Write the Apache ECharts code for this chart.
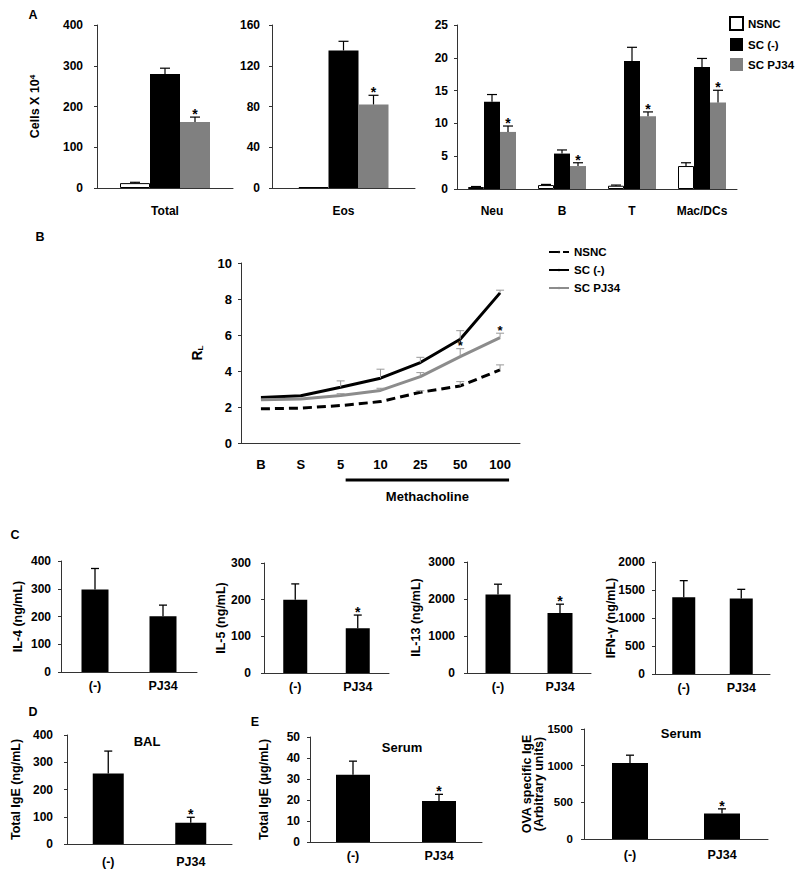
<!DOCTYPE html>
<html><head><meta charset="utf-8">
<script src="https://cdn.jsdelivr.net/npm/echarts@6/dist/echarts.min.js"></script>
<style>html,body{margin:0;padding:0;background:#fff}#c{width:800px;height:877px}</style>
</head><body><div id="c"></div>
<script>
const FONT = '"Liberation Sans", Arial, Helvetica, sans-serif';
const GRAY_BAR = '#808080';
const GRAY_LINE = '#8c8c8c';
const AXIS_COLOR = '#333';

// ---------- Panel A : cells ----------
const totalCats = ['Total'];
const totalNSNC = [12];   const totalNSNCSem = [2];
const totalSC = [280];    const totalSCSem = [14];
const totalPJ = [162];    const totalPJSem = [12];
const totalPJStar = [1];

const eosCats = ['Eos'];
const eosNSNC = [0.8];    const eosNSNCSem = [0];
const eosSC = [135];      const eosSCSem = [9];
const eosPJ = [82];       const eosPJSem = [9];
const eosPJStar = [1];

const cellCats = ['Neu', 'B', 'T', 'Mac/DCs'];
const cellNSNC = [0.3, 0.6, 0.5, 3.5];     const cellNSNCSem = [0.08, 0.1, 0.1, 0.5];
const cellSC = [13.3, 5.4, 19.5, 18.6];    const cellSCSem = [1.1, 0.55, 2.1, 1.3];
const cellPJ = [8.7, 3.5, 11.1, 13.2];     const cellPJSem = [0.9, 0.5, 0.65, 1.85];
const cellPJStar = [1, 1, 1, 1];
const legendNames = ['NSNC', 'SC (-)', 'SC PJ34'];

// ---------- Panel B : R_L ----------
const rlCats = ['B', 'S', '5', '10', '25', '50', '100'];
const rlNSNC = [1.9, 1.94, 2.08, 2.3, 2.82, 3.17, 4.06];
const rlNSNCSem = [0, 0, 0, 0, 0.08, 0.24, 0.28];
const rlSC = [2.53, 2.62, 3.1, 3.6, 4.47, 5.76, 8.34];
const rlSCSem = [0, 0, 0.35, 0.5, 0.29, 0.48, 0.15];
const rlPJ = [2.4, 2.44, 2.64, 2.92, 3.69, 4.8, 5.85];
const rlPJSem = [0, 0, 0.1, 0.12, 0.22, 0.44, 0.25];
const rlPJStar = [0, 0, 0, 0, 0, 1, 1];
const rlNoStar = [0, 0, 0, 0, 0, 0, 0];

// ---------- Panel C, D, E ----------
const treatCats = ['(-)', 'PJ34'];
const il4Mean = [297, 201];     const il4Sem = [76, 40];     const il4Star = [0, 0];
const il5Mean = [200, 122];     const il5Sem = [43, 36];     const il5Star = [0, 1];
const il13Mean = [2125, 1625];  const il13Sem = [275, 235];  const il13Star = [0, 1];
const ifnMean = [1370, 1350];   const ifnSem = [297, 162];   const ifnStar = [0, 0];
const balIgeMean = [259, 78];   const balIgeSem = [82, 20];  const balIgeStar = [0, 1];
const serIgeMean = [32, 19.5];  const serIgeSem = [6.5, 3.2]; const serIgeStar = [0, 1];
const ovaIgeMean = [1038, 347]; const ovaIgeSem = [105, 64]; const ovaIgeStar = [0, 1];

// ---------- builders ----------
const grids = [], xAxes = [], yAxes = [], series = [];
function addGrid(left, top, width, height) {
  grids.push({left, top, width, height, containLabel: false, outerBoundsMode: 'none'});
  return grids.length - 1;
}
function xAx(gi, cats, fontSize, margin) {
  xAxes.push({
    type: 'category', gridIndex: gi, data: cats,
    axisLine: {show: true, lineStyle: {color: AXIS_COLOR, width: 1}},
    axisTick: {show: false},
    axisLabel: {color: '#000', fontWeight: 'bold', fontSize, fontFamily: FONT, margin, interval: 0},
    splitLine: {show: false}
  });
}
function yAx(gi, max, interval, fontSize, margin, name, nameGap, nameStyle) {
  yAxes.push({
    type: 'value', gridIndex: gi, min: 0, max, interval,
    axisLine: {show: true, lineStyle: {color: AXIS_COLOR, width: 1}},
    axisTick: {show: true, length: 3, lineStyle: {color: AXIS_COLOR}},
    splitLine: {show: false},
    axisLabel: {color: '#000', fontWeight: 'bold', fontSize, fontFamily: FONT, margin, formatter: v => String(v)},
    name: name || '', nameLocation: 'middle', nameRotate: 90, nameGap: nameGap || 0,
    nameMoveOverlap: false,
    nameTextStyle: Object.assign({color: '#000', fontWeight: 'bold', fontSize: 12.5, fontFamily: FONT}, nameStyle || {})
  });
}
function bar(gi, name, data, width, itemStyle) {
  series.push({type: 'bar', name, xAxisIndex: gi, yAxisIndex: gi, data, barWidth: width, barGap: '0%',
    itemStyle, silent: true, z: 2});
}
function err(gi, means, sems, stars, offset, capHalf, color, lw, starSize) {
  series.push({
    type: 'custom', xAxisIndex: gi, yAxisIndex: gi, z: 10, silent: true,
    data: means.map((m, i) => [i, m, m + sems[i], stars[i]]),
    renderItem(params, api) {
      const i = api.value(0);
      const b = api.coord([i, api.value(1)]);
      const t = api.coord([i, api.value(2)]);
      const cx = b[0] + offset;
      const ch = [];
      if (t[1] < b[1] - 0.5) {
        ch.push({type: 'line', shape: {x1: cx, y1: b[1], x2: cx, y2: t[1]}, style: {stroke: color, lineWidth: lw}});
        ch.push({type: 'line', shape: {x1: cx - capHalf, y1: t[1], x2: cx + capHalf, y2: t[1]}, style: {stroke: color, lineWidth: lw}});
      }
      if (api.value(3)) {
        ch.push({type: 'text', x: cx, y: t[1] - 3,
          style: {text: '*', font: 'bold ' + starSize + 'px ' + FONT, fill: '#000', align: 'center', verticalAlign: 'middle'}});
      }
      return {type: 'group', children: ch};
    }
  });
}
const NSNC_STYLE = {color: '#fff', borderColor: '#000', borderWidth: 1};
const SC_STYLE = {color: '#000'};
const PJ_STYLE = {color: GRAY_BAR};
const BLACK = {color: '#000'};

// Panel A
function panelA(gi, cats, n, ns, s, ss, p, ps, pst, bw) {
  bar(gi, legendNames[0], n, bw, NSNC_STYLE);
  bar(gi, legendNames[1], s, bw, SC_STYLE);
  bar(gi, legendNames[2], p, bw, PJ_STYLE);
  const none = cats.map(() => 0);
  err(gi, n, ns, none, -bw, 5, '#000', 1.2, 14);
  err(gi, s, ss, none, 0, 5, '#000', 1.2, 14);
  err(gi, p, ps, pst, bw, 5, '#000', 1.2, 14);
}
let g = addGrid(97, 25, 136, 163);
xAx(g, totalCats, 12, 17);
yAx(g, 400, 100, 12, 14, '{a|Cells X 10}{b|4}', 56, {rich: {
  a: {fontSize: 12.5, fontWeight: 'bold', fontFamily: FONT, color: '#000'},
  b: {fontSize: 8, fontWeight: 'bold', fontFamily: FONT, color: '#000', verticalAlign: 'top'}}});
panelA(g, totalCats, totalNSNC, totalNSNCSem, totalSC, totalSCSem, totalPJ, totalPJSem, totalPJStar, 30);

g = addGrid(272, 25, 143, 163);
xAx(g, eosCats, 12, 17);
yAx(g, 160, 40, 12, 12);
panelA(g, eosCats, eosNSNC, eosNSNCSem, eosSC, eosSCSem, eosPJ, eosPJSem, eosPJStar, 30);

g = addGrid(457, 25, 280, 164);
xAx(g, cellCats, 12, 16);
yAx(g, 25, 5, 12, 9);
panelA(g, cellCats, cellNSNC, cellNSNCSem, cellSC, cellSCSem, cellPJ, cellPJSem, cellPJStar, 16);

// Panel B
g = addGrid(241, 263, 279, 180);
const gB = g;
xAx(g, rlCats, 13, 15);
yAx(g, 10, 2, 13, 9, '{r|R}{s|L}', 37, {rich: {
  r: {fontSize: 14, fontWeight: 'bold', fontFamily: FONT, color: '#000'},
  s: {fontSize: 8, fontWeight: 'bold', fontFamily: FONT, color: '#000', verticalAlign: 'bottom'}}});
series.push({type: 'line', name: 'B:NSNC', xAxisIndex: g, yAxisIndex: g, data: rlNSNC, symbol: 'none', z: 3,
  lineStyle: {color: '#000', width: 3, type: [9, 5]}, itemStyle: {color: '#000'}});
series.push({type: 'line', name: 'B:SC (-)', xAxisIndex: g, yAxisIndex: g, data: rlSC, symbol: 'none', z: 4,
  lineStyle: {color: '#000', width: 3}, itemStyle: {color: '#000'}});
series.push({type: 'line', name: 'B:SC PJ34', xAxisIndex: g, yAxisIndex: g, data: rlPJ, symbol: 'none', z: 5,
  lineStyle: {color: GRAY_LINE, width: 3}, itemStyle: {color: GRAY_LINE}});
err(g, rlNSNC, rlNSNCSem, rlNoStar, 0, 4, '#999', 1, 13);
err(g, rlSC, rlSCSem, rlNoStar, 0, 4, '#999', 1, 13);
err(g, rlPJ, rlPJSem, rlPJStar, 0, 4, '#999', 1, 13);

// Panel C / D / E
function simple(gi, cats, mean, sem, star, bw, labFont, labMargin) {
  xAx(gi, cats, labFont, labMargin);
  bar(gi, 'value', mean, bw, BLACK);
  err(gi, mean, sem, star, 0, 4, '#000', 1.3, 14);
}
g = addGrid(61, 561, 136, 111);
yAx(g, 400, 100, 12, 10, 'IL-4 (ng/mL)', 37);
simple(g, treatCats, il4Mean, il4Sem, il4Star, 27, 12.5, 7);

g = addGrid(264, 563, 125, 110);
yAx(g, 300, 100, 12, 13, 'IL-5 (ng/mL)', 37);
simple(g, treatCats, il5Mean, il5Sem, il5Star, 24, 12.5, 7);

g = addGrid(467, 562, 124, 111);
yAx(g, 3000, 1000, 12, 12, 'IL-13 (ng/mL)', 45);
simple(g, treatCats, il13Mean, il13Sem, il13Star, 25, 12.5, 7);

g = addGrid(655, 562, 115, 112);
yAx(g, 2000, 500, 12, 10, 'IFN-γ (ng/mL)', 38);
simple(g, treatCats, ifnMean, ifnSem, ifnStar, 23, 12.5, 7);

g = addGrid(67, 735, 165, 109);
yAx(g, 400, 100, 12, 14, 'Total IgE (ng/mL)', 45);
simple(g, treatCats, balIgeMean, balIgeSem, balIgeStar, 31, 12.5, 11);

g = addGrid(310, 737, 172, 105);
yAx(g, 50, 10, 12, 10, 'Total IgE (μg/mL)', 40);
simple(g, treatCats, serIgeMean, serIgeSem, serIgeStar, 34, 12.5, 7);

g = addGrid(584, 729, 184, 110);
yAx(g, 1500, 500, 11.5, 11, 'OVA specific IgE\n(Arbitrary units)', 39, {lineHeight: 12, fontSize: 12.5});
simple(g, treatCats, ovaIgeMean, ovaIgeSem, ovaIgeStar, 36, 12.5, 9);

function txt(text, x, y, size, align) {
  return {type: 'text', x, y, silent: true,
    style: {text, font: 'bold ' + size + 'px ' + FONT, fill: '#000', align: align || 'center', verticalAlign: 'middle'}};
}
const graphics = [
  txt('A', 33, 15, 12.5), txt('B', 40, 237, 12.5), txt('C', 15, 535, 12.5),
  txt('D', 33, 712, 12.5), txt('E', 255, 722, 12.5),
  txt('BAL', 147, 741, 13), txt('Serum', 402, 747, 13), txt('Serum', 681, 733, 13)
];

const option = {
  animation: false,
  textStyle: {fontFamily: FONT},
  grid: grids, xAxis: xAxes, yAxis: yAxes, series,
  legend: [
    {data: legendNames, orient: 'vertical', left: 729, top: 16, itemWidth: 13, itemHeight: 13, itemGap: 7,
     padding: 0, selectedMode: false, icon: 'rect',
     textStyle: {color: '#000', fontWeight: 'bold', fontSize: 11.5, fontFamily: FONT}},
    {data: ['B:NSNC', 'B:SC (-)', 'B:SC PJ34'], orient: 'vertical', left: 548, top: 246, itemWidth: 20, itemHeight: 3,
     itemGap: 6, padding: 0, selectedMode: false, formatter: n => n.slice(2),
     textStyle: {color: '#000', fontWeight: 'bold', fontSize: 11.5, fontFamily: FONT}}
  ],
  graphic: graphics
};
const chart = echarts.init(document.getElementById('c'), null, {renderer: 'svg', width: 800, height: 877});
chart.setOption(option);

// Methacholine bracket under the dose categories of panel B
const x5 = chart.convertToPixel({xAxisIndex: gB}, '5');
const x100 = chart.convertToPixel({xAxisIndex: gB}, '100');
const yBase = chart.convertToPixel({yAxisIndex: gB}, 0);
chart.setOption({graphic: graphics.concat([
  {type: 'line', silent: true, shape: {x1: x5 + 5, y1: yBase + 37, x2: x100 + 9, y2: yBase + 37}, style: {stroke: '#000', lineWidth: 3}},
  txt('Methacholine', (x5 + x100) / 2 + 7, yBase + 53, 13)
])});
</script></body></html>
